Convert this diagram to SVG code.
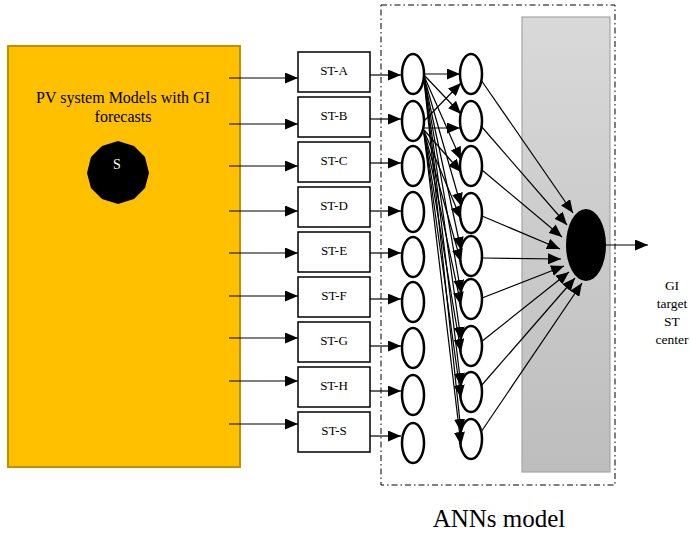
<svg xmlns="http://www.w3.org/2000/svg" width="690" height="535" viewBox="0 0 690 535">
  <defs>
    <marker id="arrow" markerUnits="userSpaceOnUse" markerWidth="13" markerHeight="11" refX="13" refY="5.5" orient="auto">
      <path d="M0,0 L13,5.5 L0,11 z" fill="#000"/>
    </marker>
    <linearGradient id="grayFill" x1="0" y1="0" x2="0" y2="1">
      <stop offset="0" stop-color="#D9D9D9"/>
      <stop offset="1" stop-color="#BDBDBD"/>
    </linearGradient>
    <style>
      .serif { font-family: "Liberation Serif", "Times New Roman", serif; fill: #000; }
      .st { fill: #fff; stroke: #000; stroke-width: 1.5; }
      .neuron { fill: #fff; stroke: #000; stroke-width: 2.5; }
      .conn line { stroke: #000; stroke-width: 1.2; marker-end: url(#arrow); }
      .stlabel { font-size: 13px; text-anchor: middle; }
    </style>
  </defs>

  <rect width="690" height="535" fill="#fff"/>

  <!-- ANN frame and output band -->
  <g id="ann-frame">
    <rect x="381" y="5" width="234" height="480" fill="none" stroke="#000" stroke-width="1" stroke-dasharray="6,3,1.5,3"/>
    <rect x="522" y="17" width="88" height="455" fill="url(#grayFill)" stroke="#A6A6A6" stroke-width="1.2"/>
  </g>

  <!-- PV system models block -->
  <g id="pv-models">
    <rect x="8" y="46" width="232" height="421" fill="#FFC000" stroke="#BF9000" stroke-width="2"/>
    <text class="serif" x="123" y="103" font-size="16" text-anchor="middle">PV system Models with GI</text>
    <text class="serif" x="123" y="122" font-size="16" text-anchor="middle">forecasts</text>
    <polygon fill="#000" points="149,173 145,188 134,199 118,204 102,199 91,188 87,173 91,157 102,146 118,141 134,146 145,157"/>
    <text x="117" y="169" font-size="14" fill="#fff" text-anchor="middle" font-family="Liberation Serif, serif">S</text>
  </g>

  <!-- station blocks -->
  <g id="st-a"><rect class="st" x="298" y="52" width="72" height="40"/><text class="serif stlabel" x="334" y="75">ST-A</text></g>
  <g id="st-b"><rect class="st" x="298" y="97" width="72" height="40"/><text class="serif stlabel" x="334" y="120">ST-B</text></g>
  <g id="st-c"><rect class="st" x="298" y="142" width="72" height="40"/><text class="serif stlabel" x="334" y="165">ST-C</text></g>
  <g id="st-d"><rect class="st" x="298" y="187" width="72" height="40"/><text class="serif stlabel" x="334" y="210">ST-D</text></g>
  <g id="st-e"><rect class="st" x="298" y="232" width="72" height="40"/><text class="serif stlabel" x="334" y="255">ST-E</text></g>
  <g id="st-f"><rect class="st" x="298" y="277" width="72" height="40"/><text class="serif stlabel" x="334" y="300">ST-F</text></g>
  <g id="st-g"><rect class="st" x="298" y="322" width="72" height="40"/><text class="serif stlabel" x="334" y="345">ST-G</text></g>
  <g id="st-h"><rect class="st" x="298" y="367" width="72" height="40"/><text class="serif stlabel" x="334" y="390">ST-H</text></g>
  <g id="st-s"><rect class="st" x="298" y="412" width="72" height="40"/><text class="serif stlabel" x="334" y="435">ST-S</text></g>

  <!-- input layer neurons -->
  <g id="in-1"><ellipse class="neuron" cx="413" cy="74" rx="11" ry="20"/></g>
  <g id="in-2"><ellipse class="neuron" cx="413" cy="121" rx="11" ry="20"/></g>
  <g id="in-3"><ellipse class="neuron" cx="413" cy="166" rx="11" ry="20"/></g>
  <g id="in-4"><ellipse class="neuron" cx="413" cy="212" rx="11" ry="20"/></g>
  <g id="in-5"><ellipse class="neuron" cx="413" cy="257" rx="11" ry="20"/></g>
  <g id="in-6"><ellipse class="neuron" cx="413" cy="302" rx="11" ry="20"/></g>
  <g id="in-7"><ellipse class="neuron" cx="413" cy="348" rx="11" ry="20"/></g>
  <g id="in-8"><ellipse class="neuron" cx="413" cy="395" rx="11" ry="20"/></g>
  <g id="in-9"><ellipse class="neuron" cx="413" cy="443" rx="11" ry="20"/></g>

  <!-- hidden layer neurons -->
  <g id="hid-1"><ellipse class="neuron" cx="471" cy="74" rx="11" ry="20"/></g>
  <g id="hid-2"><ellipse class="neuron" cx="471" cy="121" rx="11" ry="20"/></g>
  <g id="hid-3"><ellipse class="neuron" cx="471" cy="166" rx="11" ry="20"/></g>
  <g id="hid-4"><ellipse class="neuron" cx="471" cy="213" rx="11" ry="20"/></g>
  <g id="hid-5"><ellipse class="neuron" cx="471" cy="256" rx="11" ry="20"/></g>
  <g id="hid-6"><ellipse class="neuron" cx="471" cy="299" rx="11" ry="20"/></g>
  <g id="hid-7"><ellipse class="neuron" cx="471" cy="346" rx="11" ry="20"/></g>
  <g id="hid-8"><ellipse class="neuron" cx="471" cy="392" rx="11" ry="20"/></g>
  <g id="hid-9"><ellipse class="neuron" cx="471" cy="439" rx="11" ry="20"/></g>

  <!-- output neuron -->
  <g id="output"><ellipse cx="586" cy="245" rx="20" ry="36" fill="#000"/></g>

  <!-- connectors -->
  <g id="connectors" class="conn">
    <!-- models to stations -->
    <line x1="229" y1="78" x2="298" y2="78"/>
    <line x1="229" y1="124" x2="298" y2="124"/>
    <line x1="229" y1="166" x2="298" y2="166"/>
    <line x1="229" y1="211" x2="298" y2="211"/>
    <line x1="229" y1="253" x2="298" y2="253"/>
    <line x1="229" y1="296" x2="298" y2="296"/>
    <line x1="229" y1="338" x2="298" y2="338"/>
    <line x1="229" y1="381" x2="298" y2="381"/>
    <line x1="229" y1="424" x2="298" y2="424"/>
    <!-- stations to input layer -->
    <line x1="370" y1="75" x2="401" y2="75"/>
    <line x1="370" y1="119" x2="401" y2="119"/>
    <line x1="370" y1="163" x2="401" y2="163"/>
    <line x1="370" y1="211" x2="401" y2="211"/>
    <line x1="370" y1="253" x2="401" y2="253"/>
    <line x1="370" y1="299" x2="401" y2="299"/>
    <line x1="370" y1="346" x2="401" y2="346"/>
    <line x1="370" y1="391" x2="401" y2="391"/>
    <line x1="370" y1="436" x2="401" y2="436"/>
    <!-- input to hidden layer -->
    <line x1="424" y1="74" x2="460" y2="74"/>
    <line x1="424" y1="75" x2="461" y2="114"/>
    <line x1="424" y1="76" x2="461" y2="160"/>
    <line x1="424" y1="77" x2="461" y2="206"/>
    <line x1="424" y1="78" x2="461" y2="250"/>
    <line x1="424" y1="78" x2="461" y2="293"/>
    <line x1="424" y1="79" x2="461" y2="340"/>
    <line x1="424" y1="79" x2="461" y2="386"/>
    <line x1="424" y1="80" x2="461" y2="432"/>
    <line x1="424" y1="121" x2="461" y2="83"/>
    <line x1="424" y1="128" x2="460" y2="128"/>
    <line x1="424" y1="130" x2="461" y2="172"/>
    <line x1="424" y1="131" x2="461" y2="219"/>
    <line x1="424" y1="132" x2="461" y2="262"/>
    <line x1="424" y1="132" x2="461" y2="305"/>
    <line x1="424" y1="133" x2="461" y2="352"/>
    <line x1="424" y1="133" x2="461" y2="398"/>
    <line x1="424" y1="134" x2="461" y2="445"/>
    <!-- hidden to output -->
    <line x1="481" y1="80" x2="573" y2="213"/>
    <line x1="481" y1="126" x2="567" y2="225"/>
    <line x1="482" y1="170" x2="562" y2="237"/>
    <line x1="482" y1="216" x2="560" y2="249"/>
    <line x1="482" y1="258" x2="561" y2="259"/>
    <line x1="482" y1="298" x2="564" y2="266"/>
    <line x1="481" y1="342" x2="569" y2="272"/>
    <line x1="481" y1="386" x2="575" y2="278"/>
    <line x1="481" y1="432" x2="582" y2="283"/>
    <!-- output -->
    <line x1="606" y1="245" x2="648" y2="245"/>
  </g>

  <!-- labels -->
  <g id="labels">
    <text class="serif" x="672" y="290" font-size="13.5" text-anchor="middle">GI</text>
    <text class="serif" x="672" y="308" font-size="13.5" text-anchor="middle">target</text>
    <text class="serif" x="672" y="326" font-size="13.5" text-anchor="middle">ST</text>
    <text class="serif" x="672" y="344" font-size="13.5" text-anchor="middle">center</text>
    <text class="serif" x="499" y="527" font-size="25" text-anchor="middle">ANNs model</text>
  </g>
</svg>
